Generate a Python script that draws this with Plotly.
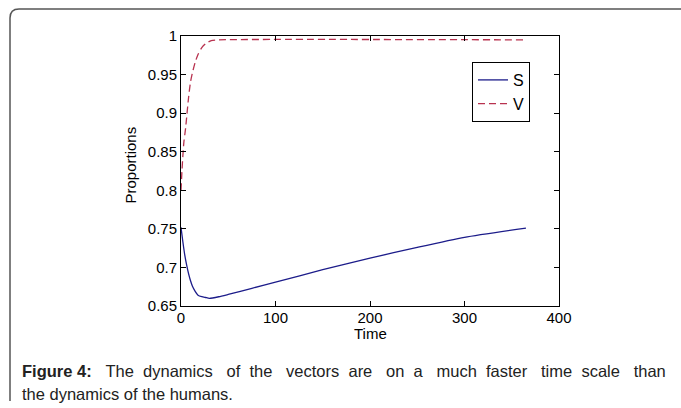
import plotly.graph_objects as go

# ---- data ----
t_s = [0, 2, 4, 6, 8, 10, 12, 15, 18, 22, 26, 30, 40, 50, 75, 100, 150, 200, 250, 300, 365]
s_vals = [0.752, 0.733, 0.716, 0.703, 0.692, 0.683, 0.676, 0.669, 0.664, 0.662, 0.661, 0.660,
          0.662, 0.665, 0.673, 0.681, 0.697, 0.712, 0.726, 0.739, 0.751]
t_v = [0, 1, 2, 3, 4, 5, 6, 8, 10, 12, 15, 18, 22, 26, 32, 40, 365]
v_vals = [0.80, 0.825, 0.845, 0.862, 0.872, 0.882, 0.895, 0.92, 0.94, 0.952, 0.966, 0.976,
          0.985, 0.99, 0.994, 0.995, 0.995]
x_ticks = [0, 100, 200, 300, 400]
y_ticks = [0.65, 0.7, 0.75, 0.8, 0.85, 0.9, 0.95, 1]
y_tick_text = ["0.65", "0.7", "0.75", "0.8", "0.85", "0.9", "0.95", "1"]
caption_words_1 = ["The", "dynamics", "of", "the", "vectors", "are", "on", "a", "much",
                   "faster", "time", "scale", "than"]
caption_bold = "Figure 4:"
caption_line2 = "the dynamics of the humans."

W, H = 681, 408
L, R, T, B = 181, 559, 36, 306

def px(x):
    return (x - L) / (R - L)

def py(y):
    return (B - y) / (B - T)

fig = go.Figure()
fig.add_trace(go.Scatter(x=t_s, y=s_vals, mode="lines", name="S",
                         line=dict(color="#1c1c8a", width=1.3, shape="spline", smoothing=0.6)))
fig.add_trace(go.Scatter(x=t_v, y=v_vals, mode="lines", name="V",
                         line=dict(color="#b8324f", width=1.3, dash="7px,4px", shape="spline", smoothing=0.6)))

font = "Liberation Sans, Arial, sans-serif"
axis_common = dict(showline=True, linecolor="black", linewidth=1, mirror="ticks",
                   ticks="inside", ticklen=5, tickcolor="black", showgrid=False, zeroline=False,
                   tickfont=dict(family=font, size=15, color="black"))

fig.update_layout(
    width=W, height=H,
    margin=dict(l=L, r=W - R, t=T, b=H - B),
    paper_bgcolor="white", plot_bgcolor="white",
    showlegend=True,
    legend=dict(x=px(472), y=py(62), xanchor="left", yanchor="top",
                bordercolor="black", borderwidth=1, bgcolor="white",
                font=dict(family=font, size=16, color="black"),
                itemwidth=30, tracegroupgap=0),
    xaxis=dict(range=[0, 400], tickvals=x_ticks, ticklabelstandoff=-2, **axis_common),
    yaxis=dict(range=[0.65, 1], tickvals=y_ticks, ticktext=y_tick_text, **axis_common),
)

fig.add_annotation(x=px(370), y=py(333), xref="paper", yref="paper", xanchor="center", yanchor="middle",
                   showarrow=False, text="Time", font=dict(family=font, size=15, color="black"))
fig.add_annotation(x=px(129.5), y=py(165), xref="paper", yref="paper", xanchor="center", yanchor="middle",
                   showarrow=False, text="Proportions", textangle=-90,
                   font=dict(family=font, size=15, color="black"))

# outer frame of the figure panel
x0, y0, r = 10, 9, 9
path = (f"M {px(x0)},{py(401)} L {px(x0)},{py(y0 + r)} "
        f"Q {px(x0)},{py(y0)} {px(x0 + r)},{py(y0)} L {px(681)},{py(y0)}")
fig.add_shape(type="path", path=path, xref="paper", yref="paper",
              line=dict(color="#555555", width=1.5))

# justified first caption line (extra non-breaking spaces widen the gaps)
gap_a = " \u00a0\u00a0"
gap_b = " \u00a0"
line1 = ""
for i, w in enumerate(caption_words_1):
    line1 += (gap_a if i % 2 == 0 else gap_b) + w
fig.add_annotation(x=px(20), y=py(371), xref="paper", yref="paper", xanchor="left", yanchor="middle",
                   showarrow=False, align="left",
                   text=f"<b>{caption_bold}</b>{line1}",
                   font=dict(family=font, size=16.5, color="#222222"))
fig.add_annotation(x=px(20), y=py(394), xref="paper", yref="paper", xanchor="left", yanchor="middle",
                   showarrow=False, align="left",
                   text=caption_line2,
                   font=dict(family=font, size=16.5, color="#222222"))

fig.write_html("out.html", config={"displayModeBar": False},
               post_script="document.body.style.margin='0px';")
